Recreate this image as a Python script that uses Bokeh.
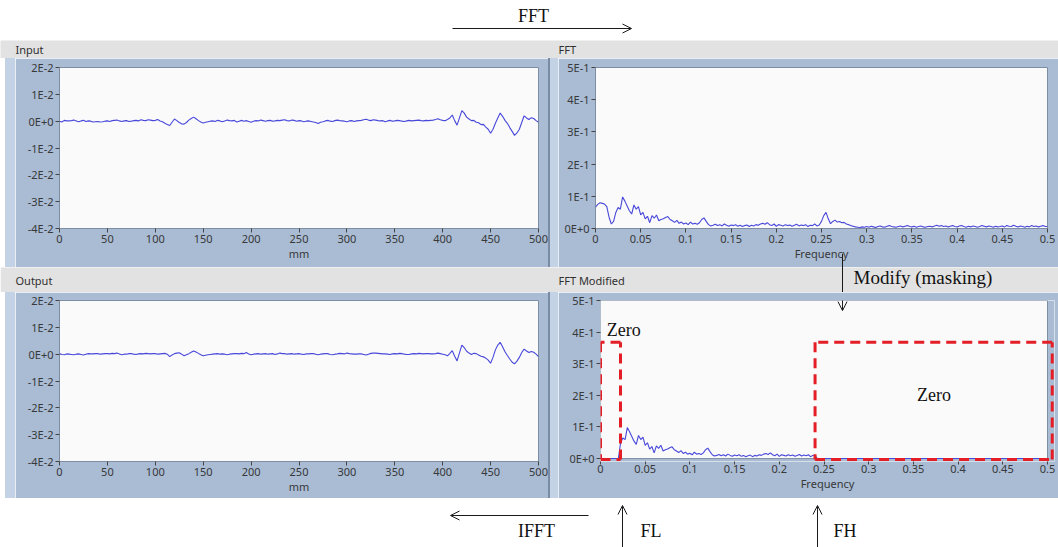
from bokeh.plotting import figure
from bokeh.layouts import column, row
from bokeh.models import Spacer, Range1d, FixedTicker, Arrow, OpenHead, Label, BoxAnnotation
from bokeh.embed import file_html
from bokeh.resources import INLINE

# ---------------------------------------------------------------- data
# profile sampled every 2.5 mm
distance_mm = [i * 2.5 for i in range(201)]

input_signal = [
    0.0000, -0.0003, 0.0003, 0.0001, 0.0001, 0.0002, 0.0004, 0.0001, -0.0002, 0.0001,
    0.0003, -0.0001, 0.0001, 0.0000, -0.0003, -0.0002, -0.0001, -0.0003, -0.0002, 0.0000,
    0.0001, -0.0001, 0.0002, 0.0003, 0.0004, 0.0001, -0.0001, 0.0001, 0.0002, -0.0001,
    0.0000, 0.0002, 0.0003, 0.0001, 0.0005, 0.0003, 0.0002, 0.0005, 0.0004, 0.0002,
    0.0003, 0.0006, 0.0001, -0.0002, -0.0008, -0.0012, -0.0016, -0.0004, 0.0008, 0.0002,
    -0.0005, -0.0010, -0.0011, -0.0005, 0.0004, 0.0010, 0.0015, 0.0009, 0.0002, -0.0003,
    -0.0007, -0.0004, -0.0002, 0.0000, 0.0001, -0.0001, 0.0003, 0.0001, -0.0002, 0.0001,
    0.0004, 0.0002, 0.0001, 0.0003, -0.0003, 0.0000, 0.0003, 0.0000, 0.0002, -0.0001,
    -0.0004, 0.0000, 0.0002, 0.0001, 0.0004, 0.0002, 0.0000, 0.0002, 0.0003, 0.0000,
    0.0001, 0.0003, 0.0002, 0.0004, 0.0005, 0.0002, 0.0001, 0.0004, 0.0003, 0.0000,
    0.0002, 0.0001, -0.0002, 0.0000, 0.0001, -0.0001, -0.0003, -0.0005, -0.0009, -0.0004,
    -0.0002, 0.0001, 0.0003, 0.0000, -0.0001, 0.0002, 0.0004, 0.0002, 0.0001, 0.0000,
    -0.0002, 0.0001, 0.0002, -0.0001, 0.0001, 0.0002, 0.0003, 0.0005, 0.0007, 0.0004,
    0.0002, 0.0005, 0.0004, 0.0002, 0.0001, 0.0002, -0.0002, 0.0001, 0.0003, 0.0000,
    0.0001, 0.0003, 0.0002, 0.0000, -0.0001, 0.0001, 0.0003, 0.0001, 0.0002, 0.0003,
    0.0004, 0.0002, 0.0001, 0.0003, 0.0002, 0.0003, 0.0004, 0.0006, 0.0009, 0.0005,
    0.0003, 0.0002, 0.0006, 0.0012, 0.0023, 0.0002, -0.0015, 0.0012, 0.0039, 0.0030,
    0.0015, 0.0008, 0.0002, 0.0003, -0.0004, -0.0006, -0.0013, -0.0012, -0.0022, -0.0030,
    -0.0045, -0.0030, -0.0008, 0.0012, 0.0030, 0.0018, 0.0003, -0.0008, -0.0024, -0.0038,
    -0.0053, -0.0044, -0.0030, -0.0005, 0.0020, 0.0012, 0.0006, 0.0013, 0.0010, 0.0002,
    -0.0004,
]

output_signal = [
    0.0002, -0.0001, -0.0002, 0.0001, 0.0000, -0.0001, -0.0002, 0.0000, 0.0001, -0.0001,
    -0.0003, 0.0000, 0.0002, 0.0001, 0.0001, 0.0002, 0.0002, 0.0000, 0.0001, 0.0002,
    0.0002, 0.0001, 0.0003, 0.0002, 0.0004, 0.0001, -0.0002, 0.0000, 0.0000, 0.0002,
    0.0002, 0.0000, -0.0001, 0.0001, 0.0002, 0.0001, 0.0003, 0.0002, 0.0001, 0.0002,
    0.0002, 0.0000, 0.0001, 0.0002, 0.0003, 0.0000, -0.0009, -0.0003, 0.0002, 0.0004,
    0.0005, 0.0000, -0.0006, -0.0002, 0.0002, 0.0007, 0.0012, 0.0008, 0.0003, -0.0002,
    -0.0006, -0.0004, -0.0002, -0.0001, 0.0000, 0.0001, 0.0002, 0.0000, 0.0001, 0.0000,
    -0.0002, 0.0000, 0.0001, 0.0002, 0.0002, 0.0001, 0.0003, 0.0002, 0.0006, 0.0001,
    -0.0002, 0.0000, 0.0001, 0.0002, 0.0000, 0.0001, 0.0002, 0.0000, 0.0001, 0.0002,
    -0.0001, 0.0001, 0.0004, 0.0002, 0.0002, 0.0000, 0.0001, 0.0002, 0.0000, 0.0001,
    0.0002, 0.0000, -0.0001, 0.0001, 0.0001, 0.0002, 0.0002, 0.0000, -0.0002, 0.0000,
    0.0001, 0.0002, 0.0002, -0.0001, -0.0002, 0.0000, 0.0001, 0.0003, 0.0002, 0.0001,
    0.0004, 0.0002, 0.0001, 0.0000, 0.0000, 0.0001, 0.0001, -0.0001, -0.0003, 0.0000,
    0.0003, 0.0004, 0.0004, 0.0003, 0.0002, 0.0001, 0.0001, 0.0000, -0.0001, 0.0001,
    0.0002, 0.0001, 0.0003, 0.0002, 0.0000, -0.0001, -0.0001, 0.0001, 0.0002, 0.0001,
    0.0003, 0.0002, 0.0001, 0.0002, 0.0002, 0.0001, 0.0001, 0.0002, 0.0004, 0.0002,
    0.0000, -0.0002, -0.0006, 0.0003, 0.0013, -0.0008, -0.0025, 0.0005, 0.0034, 0.0024,
    0.0011, 0.0004, -0.0001, 0.0003, 0.0002, -0.0003, -0.0008, -0.0010, -0.0015, -0.0022,
    -0.0034, -0.0012, 0.0016, 0.0034, 0.0044, 0.0028, 0.0009, -0.0005, -0.0018, -0.0030,
    -0.0036, -0.0026, -0.0012, 0.0006, 0.0019, 0.0012, 0.0006, 0.0010, 0.0007, 0.0000,
    -0.0009,
]

# spectrum sampled every 0.0025 cycles/mm
frequency = [round(i * 0.0025, 4) for i in range(201)]

fft_magnitude = [
    0.066, 0.075, 0.080, 0.078, 0.076, 0.068, 0.035, 0.014, 0.022, 0.050,
    0.065, 0.060, 0.098, 0.085, 0.070, 0.055, 0.045, 0.073, 0.060, 0.068,
    0.042, 0.050, 0.030, 0.038, 0.018, 0.040, 0.032, 0.042, 0.024, 0.028,
    0.030, 0.034, 0.037, 0.028, 0.024, 0.019, 0.025, 0.016, 0.020, 0.014,
    0.017, 0.012, 0.020, 0.014, 0.016, 0.013, 0.018, 0.028, 0.033, 0.022,
    0.012, 0.008, 0.010, 0.013, 0.009, 0.012, 0.008, 0.014, 0.010, 0.007,
    0.011, 0.009, 0.012, 0.007, 0.010, 0.006, 0.009, 0.011, 0.006, 0.010,
    0.008, 0.012, 0.010, 0.014, 0.016, 0.013, 0.018, 0.012, 0.009, 0.014,
    0.007, 0.012, 0.010, 0.008, 0.012, 0.009, 0.011, 0.007, 0.010, 0.013,
    0.008, 0.011, 0.009, 0.012, 0.006, 0.010, 0.009, 0.014, 0.008, 0.011,
    0.022, 0.040, 0.050, 0.030, 0.015, 0.022, 0.026, 0.020, 0.022, 0.018,
    0.019, 0.014, 0.012, 0.009, 0.007, 0.005, 0.004, 0.003, 0.005, 0.004,
    0.006, 0.004, 0.007, 0.005, 0.003, 0.006, 0.008, 0.005, 0.004, 0.007,
    0.009, 0.006, 0.005, 0.004, 0.006, 0.008, 0.005, 0.007, 0.009, 0.006,
    0.005, 0.007, 0.004, 0.006, 0.008, 0.005, 0.004, 0.006, 0.007, 0.005,
    0.008, 0.010, 0.007, 0.009, 0.006, 0.008, 0.005, 0.007, 0.009, 0.006,
    0.005, 0.008, 0.009, 0.006, 0.004, 0.007, 0.005, 0.008, 0.006, 0.004,
    0.006, 0.009, 0.007, 0.005, 0.008, 0.006, 0.004, 0.007, 0.005, 0.006,
    0.008, 0.005, 0.009, 0.007, 0.006, 0.010, 0.007, 0.005, 0.008, 0.006,
    0.004, 0.007, 0.005, 0.009, 0.006, 0.008, 0.005, 0.007, 0.009, 0.006,
    0.006,
]

# band-pass mask limits
FL = 0.0224
FH = 0.24
mask_height = 0.368

fft_modified = [m if FL <= f <= FH else 0.0 for f, m in zip(frequency, fft_magnitude)]

mm_ticks = [0, 50, 100, 150, 200, 250, 300, 350, 400, 450, 500]
freq_ticks = [0, 0.05, 0.1, 0.15, 0.2, 0.25, 0.3, 0.35, 0.4, 0.45, 0.5]
freq_labels = ["0", "0.05", "0.1", "0.15", "0.2", "0.25", "0.3", "0.35", "0.4", "0.45", "0.5"]
sig_ticks = [0.02, 0.01, 0, -0.01, -0.02, -0.03, -0.04]
sig_labels = ["2E-2", "1E-2", "0E+0", "-1E-2", "-2E-2", "-3E-2", "-4E-2"]
mag_ticks = [0.5, 0.4, 0.3, 0.2, 0.1, 0]
mag_labels = ["5E-1", "4E-1", "3E-1", "2E-1", "1E-1", "0E+0"]

# ---------------------------------------------------------------- style
PANEL = "#a9bcd4"
PANEL_LIGHT = "#c3d2e4"
PANEL_DARK = "#7a8ca5"
TITLE_BAR = "#e2e2e2"
PLOT_BG = "#fafafa"
OUTLINE = "#7d8da3"
TRACE = "#4848da"
MASK = "#e31e26"
INK = "#1a1a1a"
UI_FONT = "Noto Sans"
SERIF = "Liberation Serif"
W = 1058


def strip(h, bg):
    s = figure(width=W, height=h, x_range=Range1d(0, W), y_range=Range1d(h, 0),
               min_border=0, toolbar_location=None, output_backend="svg",
               background_fill_color=bg, border_fill_color=bg)
    s.axis.visible = False
    s.grid.visible = False
    s.outline_line_color = None
    return s


def panel(w, h, xr, yr, bl, br, bt, bb, xticks, xlabels, xname, yticks, ylabels):
    p = figure(width=w, height=h, x_range=Range1d(*xr), y_range=Range1d(*yr),
               min_border_left=bl, min_border_right=br, min_border_top=bt,
               min_border_bottom=bb, toolbar_location=None, output_backend="svg",
               background_fill_color=PLOT_BG, border_fill_color=PANEL)
    p.grid.visible = False
    p.outline_line_color = OUTLINE
    for ax in (p.xaxis[0], p.yaxis[0]):
        ax.axis_line_color = None
        ax.major_tick_line_color = "#454545"
        ax.major_tick_out = 4
        ax.major_tick_in = 0
        ax.minor_tick_line_color = None
        ax.major_label_text_font = UI_FONT
        ax.major_label_text_font_size = "11px"
        ax.major_label_text_color = "#383838"
        ax.major_label_standoff = 2
    p.xaxis.ticker = FixedTicker(ticks=xticks)
    if xlabels:
        p.xaxis.major_label_overrides = dict(zip(xticks, xlabels))
    p.yaxis.ticker = FixedTicker(ticks=yticks)
    p.yaxis.major_label_overrides = dict(zip(yticks, ylabels))
    p.xaxis.axis_label = xname
    p.xaxis.axis_label_standoff = 0
    p.xaxis.axis_label_text_font = UI_FONT
    p.xaxis.axis_label_text_font_size = "11px"
    p.xaxis.axis_label_text_font_style = "normal"
    p.xaxis.axis_label_text_color = "#383838"
    return p


def block(w, h, color):
    return Spacer(width=w, height=h, styles={"background-color": color})


def arrow(fig, x0, y0, x1, y1, head=True):
    fig.add_layout(Arrow(end=OpenHead(size=9, line_width=1, line_color=INK) if head else None,
                         x_start=x0, y_start=y0, x_end=x1, y_end=y1,
                         line_width=1, line_color=INK))


def dashed_box(fig, x0, x1, y0, y1):
    for xa, ya, xb, yb in ((x0, y0, x1, y0), (x1, y0, x1, y1),
                           (x1, y1, x0, y1), (x0, y1, x0, y0)):
        fig.add_layout(Arrow(end=None, x_start=xa, y_start=ya, x_end=xb, y_end=yb,
                             line_color=MASK, line_width=3, line_dash="10 6"))


def text(fig, x, y, s, font, size, align="left"):
    fig.add_layout(Label(x=x, y=y, text=s, text_font=font, text_font_size=size,
                         text_color="#111111" if font == SERIF else "#303030",
                         text_align=align, text_baseline="middle"))


# ---------------------------------------------------------------- top annotation strip
top = strip(40, "white")
text(top, 533, 15, "FFT", SERIF, "18px", "center")
arrow(top, 452, 28, 631, 28)

# ---------------------------------------------------------------- first row of panels
bar1 = strip(18, TITLE_BAR)
text(bar1, 15, 9, "Input", UI_FONT, "11px")
text(bar1, 558, 9, "FFT", UI_FONT, "11px")

p_in = panel(533, 209, (0, 500), (-0.04, 0.02), 44, 10, 9, 39,
             mm_ticks, None, "mm", sig_ticks, sig_labels)
p_in.line(distance_mm, input_signal, line_color=TRACE, line_width=1.1)

p_fft = panel(500, 209, (0, 0.5), (0, 0.5), 37, 11, 9, 39,
              freq_ticks, freq_labels, "Frequency", mag_ticks, mag_labels)
p_fft.line(frequency, fft_magnitude, line_color=TRACE, line_width=1.1)

row1 = row(block(5, 209, "white"), block(10, 209, PANEL_LIGHT), p_in,
           block(2, 209, PANEL_DARK), block(8, 209, PANEL_LIGHT), p_fft)

# ---------------------------------------------------------------- second title bar
# transparent on top so the "Modify" arrow can start inside the panel above it
LIFT = 14
bar2 = figure(width=W, height=25 + LIFT, x_range=Range1d(0, W), y_range=Range1d(25 + LIFT, 0),
              min_border=0, toolbar_location=None, output_backend="svg",
              background_fill_color=None, border_fill_color=None,
              margin=(-LIFT, 0, 0, 0))
bar2.axis.visible = False
bar2.grid.visible = False
bar2.outline_line_color = None
bar2.add_layout(BoxAnnotation(left=0, right=W, top=LIFT, bottom=25 + LIFT,
                              fill_color=TITLE_BAR, fill_alpha=1, line_alpha=0,
                              level="underlay"))
text(bar2, 15, LIFT + 13, "Output", UI_FONT, "11px")
text(bar2, 558, LIFT + 13, "FFT Modified", UI_FONT, "11px")
text(bar2, 853, LIFT + 10, "Modify (masking)", SERIF, "19px")
arrow(bar2, 842, 0, 842, 25 + LIFT, head=False)

# ---------------------------------------------------------------- second row of panels
p_out = panel(533, 206, (0, 500), (-0.04, 0.02), 44, 10, 8, 37,
              mm_ticks, None, "mm", sig_ticks, sig_labels)
p_out.line(distance_mm, output_signal, line_color=TRACE, line_width=1.1)

# the frame runs a few pixels past the 0..0.5 window so the mask outline can overhang it
x_end = 0.5 * 454 / 447
y_start = -0.5 * 3 / 161
p_mod = panel(500, 206, (0, x_end), (y_start, 0.5), 42, 4, 8, 34,
              freq_ticks, freq_labels, "Frequency", mag_ticks, mag_labels)
p_mod.xaxis.major_tick_out = 3
p_mod.xaxis.major_label_standoff = 0
p_mod.outline_line_color = None
# panel colour over the overhang margins, with the plot-area outline on its edge
p_mod.quad(left=[0.5, 0.0], right=[x_end, x_end], bottom=[y_start, y_start],
           top=[0.5, -0.0012], fill_color=PANEL, line_color=None)
p_mod.line([0, 0.5, 0.5, 0, 0], [0, 0, 0.5, 0.5, 0], line_color=OUTLINE, line_width=1)
p_mod.line(frequency, fft_modified, line_color=TRACE, line_width=1.1)

# zeroed regions of the spectrum
dashed_box(p_mod, 0, FL, -0.003, mask_height)
dashed_box(p_mod, FH, 0.5053, -0.003, mask_height)
text(p_mod, 0.007, 0.407, "Zero", SERIF, "18px")
text(p_mod, 0.354, 0.2, "Zero", SERIF, "18px")
arrow(p_mod, 0.2707, 0.53, 0.2707, 0.468)

row2 = row(block(5, 206, "white"), block(10, 206, PANEL_LIGHT), p_out,
           block(2, 206, PANEL_DARK), block(8, 206, PANEL_LIGHT), p_mod)

# ---------------------------------------------------------------- bottom annotation strip
bottom = strip(49, "white")
arrow(bottom, 588, 17, 450, 17)
text(bottom, 536, 32, "IFFT", SERIF, "18px", "center")
arrow(bottom, 622, 49, 622, 7)
text(bottom, 640, 32, "FL", SERIF, "18px")
arrow(bottom, 817, 49, 817, 7)
text(bottom, 833, 32, "FH", SERIF, "18px")

layout = column(top, bar1, row1, bar2, row2, bottom)

open("out.html", "w").write(file_html(layout, INLINE))
